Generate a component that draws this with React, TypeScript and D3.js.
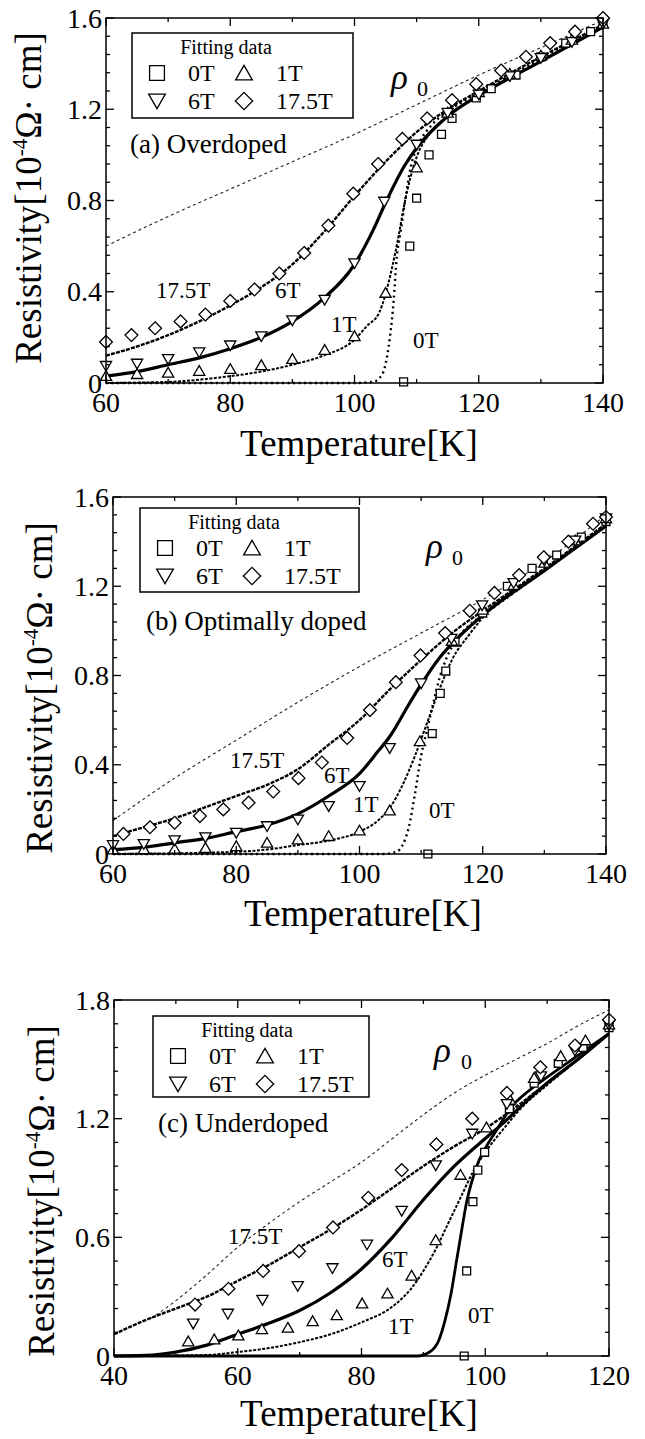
import * as d3 from "d3";

type Pt = [number, number];

// ---------- (a) Overdoped ----------
const aXTicks = [60, 80, 100, 120, 140];
const aYTicks = [0, 0.4, 0.8, 1.2, 1.6];
const aYLabels = ["0", "0.4", "0.8", "1.2", "1.6"];
const aRho0: Pt[] = [[60, 0.6], [70, 0.73], [80, 0.85], [90, 0.97], [100, 1.09], [110, 1.22], [120, 1.35], [130, 1.47], [140, 1.59]];
const a0T: Pt[] = [[60, 0], [80, 0], [100, 0], [103, 0.005], [104.5, 0.04], [105.2, 0.11], [105.7, 0.2], [106.3, 0.36], [106.8, 0.55], [107.4, 0.66], [108.1, 0.79], [109, 0.94], [110.4, 1.05], [112.4, 1.13], [115, 1.19], [120, 1.27], [130, 1.42], [140, 1.56]];
const a1T: Pt[] = [[60, 0], [70, 0.005], [80, 0.03], [85, 0.05], [90, 0.08], [95, 0.12], [100, 0.19], [102, 0.25], [104, 0.31], [105, 0.39], [106, 0.5], [107, 0.63], [108, 0.78], [109, 0.9], [110, 0.99], [112, 1.09], [115, 1.17], [120, 1.26], [130, 1.41], [140, 1.56]];
const a6T: Pt[] = [[60, 0.03], [65, 0.05], [70, 0.08], [75, 0.11], [80, 0.15], [85, 0.2], [90, 0.27], [95, 0.37], [100, 0.52], [103, 0.67], [105, 0.79], [108, 0.95], [110, 1.03], [113, 1.12], [116, 1.19], [120, 1.26], [130, 1.41], [140, 1.56]];
const a175T: Pt[] = [[60, 0.12], [65, 0.16], [70, 0.21], [75, 0.27], [80, 0.34], [85, 0.42], [90, 0.52], [95, 0.66], [100, 0.82], [105, 0.97], [110, 1.1], [115, 1.2], [120, 1.28], [130, 1.43], [140, 1.57]];
const aFit0T: Pt[] = [[107.9, 0.005], [108.9, 0.6], [110, 0.81], [112, 1.0], [114, 1.09], [115.7, 1.16], [119.6, 1.25], [122, 1.29], [126, 1.35], [130, 1.43], [134, 1.49], [138, 1.54], [140, 1.58]];
const aFit1T: Pt[] = [[60, 0.026], [65, 0.034], [70, 0.04], [75, 0.048], [80, 0.056], [85, 0.073], [90, 0.1], [95.2, 0.14], [100, 0.2], [105, 0.39], [110, 0.94], [115, 1.18], [120, 1.27], [125, 1.35], [130, 1.43], [135, 1.5], [140, 1.57]];
const aFit6T: Pt[] = [[60, 0.08], [65, 0.09], [70, 0.11], [75, 0.14], [80, 0.17], [85, 0.21], [90, 0.28], [95.2, 0.37], [100, 0.53], [104.8, 0.8], [110, 1.05], [115, 1.19], [120, 1.27], [125, 1.35], [130, 1.43], [135, 1.5], [140, 1.58]];
const aFit175T: Pt[] = [[60, 0.18], [64.1, 0.21], [67.9, 0.24], [72, 0.27], [76, 0.3], [80, 0.36], [83.9, 0.41], [87.9, 0.48], [91.9, 0.57], [95.8, 0.69], [99.8, 0.83], [103.8, 0.96], [107.7, 1.07], [111.7, 1.16], [115.7, 1.24], [119.6, 1.31], [123.6, 1.37], [127.6, 1.43], [131.5, 1.49], [135.5, 1.54], [140, 1.6]];

// ---------- (b) Optimally doped ----------
const bXTicks = [60, 80, 100, 120, 140];
const bYTicks = [0, 0.4, 0.8, 1.2, 1.6];
const bYLabels = ["0", "0.4", "0.8", "1.2", "1.6"];
const bRho0: Pt[] = [[60, 0.15], [70, 0.34], [80, 0.51], [90, 0.68], [100, 0.84], [110, 0.99], [120, 1.14], [130, 1.31], [140, 1.52]];
const b0T: Pt[] = [[60, 0], [104, 0], [106, 0.01], [107, 0.04], [108, 0.12], [109, 0.27], [110, 0.44], [111, 0.56], [112, 0.68], [113, 0.79], [114, 0.87], [116, 0.97], [118, 1.03], [120, 1.07], [130, 1.27], [140, 1.47]];
const b1T: Pt[] = [[60, 0], [80, 0.01], [85, 0.02], [90, 0.04], [95, 0.06], [100, 0.1], [103, 0.15], [105, 0.21], [107, 0.31], [109, 0.44], [111, 0.59], [113, 0.74], [115, 0.87], [118, 0.99], [120, 1.06], [130, 1.27], [140, 1.47]];
const b6T: Pt[] = [[60, 0.02], [65, 0.03], [70, 0.05], [75, 0.07], [80, 0.1], [85, 0.13], [90, 0.18], [95, 0.26], [100, 0.36], [103, 0.46], [105, 0.53], [108, 0.67], [110, 0.76], [113, 0.88], [116, 0.97], [120, 1.07], [130, 1.27], [140, 1.47]];
const b175T: Pt[] = [[60, 0.08], [65, 0.12], [70, 0.16], [75, 0.21], [80, 0.26], [85, 0.31], [90, 0.38], [95, 0.49], [100, 0.6], [105, 0.74], [110, 0.87], [115, 0.99], [120, 1.09], [130, 1.28], [140, 1.48]];
const bFit0T: Pt[] = [[111.1, 0], [111.8, 0.54], [113.1, 0.72], [114, 0.82], [115.5, 0.95], [120, 1.08], [124, 1.2], [128, 1.28], [132, 1.34], [136, 1.42], [140, 1.49]];
const bFit1T: Pt[] = [[60, 0.015], [65, 0.016], [70, 0.018], [75, 0.022], [80, 0.03], [85, 0.045], [90, 0.06], [95, 0.075], [100, 0.1], [104.9, 0.19], [109.8, 0.5], [115, 0.95], [120, 1.09], [125, 1.2], [130, 1.3], [135, 1.4], [140, 1.5]];
const bFit6T: Pt[] = [[60, 0.045], [65, 0.05], [70, 0.067], [75, 0.08], [80, 0.1], [85, 0.13], [90, 0.16], [95, 0.22], [100, 0.31], [104.9, 0.48], [110, 0.77], [114.9, 0.97], [119.9, 1.12], [125, 1.22], [130, 1.32], [135, 1.41], [140, 1.51]];
const bFit175T: Pt[] = [[61.7, 0.09], [66, 0.12], [70, 0.14], [74.1, 0.17], [77.9, 0.2], [82, 0.23], [86, 0.28], [90.1, 0.34], [93.9, 0.41], [98, 0.52], [101.7, 0.645], [105.9, 0.77], [109.9, 0.89], [113.9, 0.99], [117.9, 1.09], [121.9, 1.17], [125.9, 1.25], [129.9, 1.33], [133.9, 1.4], [137.9, 1.48], [140, 1.51]];

// ---------- (c) Underdoped ----------
const cXTicks = [40, 60, 80, 100, 120];
const cYTicks = [0, 0.6, 1.2, 1.8];
const cYLabels = ["0", "0.6", "1.2", "1.8"];
const cRho0: Pt[] = [[46, 0.19], [50, 0.28], [55, 0.41], [60, 0.55], [65, 0.67], [70, 0.78], [75, 0.88], [80, 0.98], [85, 1.1], [90, 1.22], [95, 1.33], [100, 1.42], [105, 1.5], [110, 1.58], [115, 1.67], [120, 1.75]];
const c0T: Pt[] = [[40, 0], [89, 0], [91, 0.02], [92.5, 0.08], [93.5, 0.18], [94.5, 0.32], [95.3, 0.47], [96, 0.6], [97, 0.78], [98, 0.9], [99, 0.99], [100, 1.05], [102, 1.15], [104, 1.25], [107, 1.34], [110, 1.41], [115, 1.52], [120, 1.63]];
const c1T: Pt[] = [[40, 0], [55, 0.005], [60, 0.02], [65, 0.04], [70, 0.07], [75, 0.11], [80, 0.17], [85, 0.25], [88, 0.34], [90, 0.43], [92, 0.54], [94, 0.67], [96, 0.8], [98, 0.93], [100, 1.03], [103, 1.15], [106, 1.26], [110, 1.37], [115, 1.5], [120, 1.63]];
const c6T: Pt[] = [[40, 0], [45, 0.003], [50, 0.02], [55, 0.055], [60, 0.11], [65, 0.165], [70, 0.23], [75, 0.32], [80, 0.44], [85, 0.6], [90, 0.79], [95, 0.96], [100, 1.1], [103, 1.18], [106, 1.27], [110, 1.38], [115, 1.5], [120, 1.63]];
const c175T: Pt[] = [[40, 0.11], [45, 0.18], [50, 0.24], [55, 0.3], [60, 0.38], [65, 0.46], [70, 0.55], [75, 0.64], [80, 0.74], [85, 0.85], [90, 0.96], [95, 1.06], [100, 1.15], [105, 1.26], [110, 1.38], [115, 1.5], [120, 1.63]];
const cFit0T: Pt[] = [[96.6, 0], [97, 0.43], [98, 0.78], [98.8, 0.94], [99.9, 1.03], [103.9, 1.25], [107.9, 1.38], [111.8, 1.48], [115.8, 1.56], [120, 1.66]];
const cFit1T: Pt[] = [[52, 0.068], [56.2, 0.078], [60.1, 0.098], [63.9, 0.13], [68.1, 0.137], [72.1, 0.17], [76, 0.2], [80.1, 0.26], [84.2, 0.31], [88.1, 0.4], [92, 0.58], [96, 0.91], [100.2, 1.15], [104, 1.29], [107.9, 1.4], [112.2, 1.51], [116.2, 1.59], [120, 1.67]];
const cFit6T: Pt[] = [[52.8, 0.17], [58.4, 0.22], [64, 0.29], [69.7, 0.36], [75.3, 0.45], [80.9, 0.57], [86.5, 0.74], [92, 0.97], [97.9, 1.13], [103.5, 1.28], [109, 1.42], [114.5, 1.55], [120, 1.68]];
const cFit175T: Pt[] = [[53.1, 0.26], [58.5, 0.34], [64.1, 0.43], [69.9, 0.53], [75.4, 0.65], [81.1, 0.8], [86.5, 0.94], [92.1, 1.07], [97.9, 1.2], [103.5, 1.33], [108.9, 1.46], [114.5, 1.57], [120, 1.7]];

const FONT = '"Liberation Serif", "Times New Roman", serif';

type Box = { left: number; right: number; top: number; bottom: number };
type Lbl = { text: string; x: number; y: number };

interface PanelCfg {
  box: Box;
  xDomain: [number, number];
  yDomain: [number, number];
  xTicks: number[];
  xMinor: number;
  yTicks: number[];
  yLabels: string[];
  yMinor: number;
  rho0: Pt[];
  m0T: Pt[];
  m1T: Pt[];
  m6T: Pt[];
  m175T: Pt[];
  f0T: Pt[];
  f1T: Pt[];
  f6T: Pt[];
  f175T: Pt[];
  zeroDotted: boolean;
  legend: { x: number; y: number; w: number; h: number };
  name: Lbl;
  rho: { x: number; y: number; sx: number };
  curveLabels: Lbl[];
  xTitle: { x: number; y: number };
  yTitle: { x: number; y: number };
}

const symSquare = d3.symbol().type(d3.symbolSquare2);
const symTri = d3.symbol().type(d3.symbolTriangle2);
const symDiamond = d3.symbol().type(d3.symbolDiamond2);

function Marker({ kind, x, y, big }: { kind: string; x: number; y: number; big?: boolean }) {
  let d = "";
  let rot = 0;
  if (kind === "0T") d = symSquare.size(big ? 280 : 80)() as string;
  if (kind === "1T") d = symTri.size(big ? 200 : 90)() as string;
  if (kind === "6T") {
    d = symTri.size(big ? 200 : 90)() as string;
    rot = 180;
  }
  if (kind === "17.5T") d = symDiamond.size(big ? 190 : 105)() as string;
  return (
    <path
      d={d}
      transform={`translate(${x},${y}) rotate(${rot})`}
      fill="#fff"
      stroke="#000"
      strokeWidth={1.3}
    />
  );
}

function Panel({ cfg }: { cfg: PanelCfg }) {
  const { box } = cfg;
  const x = d3.scaleLinear().domain(cfg.xDomain).range([box.left, box.right]);
  const y = d3.scaleLinear().domain(cfg.yDomain).range([box.bottom, box.top]);
  const line = d3
    .line<Pt>()
    .x((d) => x(d[0]))
    .y((d) => y(d[1]))
    .curve(d3.curveMonotoneX);

  const xMinor = d3
    .range(cfg.xDomain[0], cfg.xDomain[1] + 0.001, cfg.xMinor)
    .filter((v) => !cfg.xTicks.includes(v));
  const yMinor = d3
    .range(cfg.yDomain[0], cfg.yDomain[1] + 0.001, cfg.yMinor)
    .filter((v) => !cfg.yTicks.some((t) => Math.abs(t - v) < 1e-6));

  const major = 8;
  const minor = 4;
  const lg = cfg.legend;

  return (
    <g fontFamily={FONT} fill="#000">
      {/* rho0 */}
      <path d={line(cfg.rho0) ?? ""} fill="none" stroke="#222" strokeWidth={1.1} strokeDasharray="3 3" />

      {/* measured curves */}
      <path
        d={line(cfg.m0T) ?? ""}
        fill="none"
        stroke="#000"
        strokeWidth={cfg.zeroDotted ? 2.4 : 2.8}
        strokeDasharray={cfg.zeroDotted ? "2 3.5" : undefined}
      />
      <path d={line(cfg.m1T) ?? ""} fill="none" stroke="#000" strokeWidth={2} strokeDasharray="3 1.5" />
      <path d={line(cfg.m6T) ?? ""} fill="none" stroke="#000" strokeWidth={3.2} />
      <path d={line(cfg.m175T) ?? ""} fill="none" stroke="#000" strokeWidth={2.4} strokeDasharray="4 1.2" />

      {/* fitting markers */}
      {cfg.f0T.map((d, i) => <Marker key={"s" + i} kind="0T" x={x(d[0])} y={y(d[1])} />)}
      {cfg.f1T.map((d, i) => <Marker key={"t" + i} kind="1T" x={x(d[0])} y={y(d[1])} />)}
      {cfg.f6T.map((d, i) => <Marker key={"v" + i} kind="6T" x={x(d[0])} y={y(d[1])} />)}
      {cfg.f175T.map((d, i) => <Marker key={"d" + i} kind="17.5T" x={x(d[0])} y={y(d[1])} />)}

      {/* frame and ticks */}
      <rect
        x={box.left}
        y={box.top}
        width={box.right - box.left}
        height={box.bottom - box.top}
        fill="none"
        stroke="#000"
        strokeWidth={1.5}
      />
      {cfg.xTicks.concat(xMinor).map((v, i) => {
        const len = cfg.xTicks.includes(v) ? major : minor;
        return (
          <g key={"xt" + i} stroke="#000" strokeWidth={1.3}>
            <line x1={x(v)} x2={x(v)} y1={box.bottom} y2={box.bottom - len} />
            <line x1={x(v)} x2={x(v)} y1={box.top} y2={box.top + len} />
          </g>
        );
      })}
      {cfg.yTicks.concat(yMinor).map((v, i) => {
        const len = i < cfg.yTicks.length ? major : minor;
        return (
          <g key={"yt" + i} stroke="#000" strokeWidth={1.3}>
            <line x1={box.left} x2={box.left + len} y1={y(v)} y2={y(v)} />
            <line x1={box.right} x2={box.right - len} y1={y(v)} y2={y(v)} />
          </g>
        );
      })}
      {cfg.xTicks.map((v) => (
        <text key={"xl" + v} x={x(v)} y={box.bottom + 29} fontSize={28} textAnchor="middle">
          {v}
        </text>
      ))}
      {cfg.yTicks.map((v, i) => (
        <text key={"yl" + v} x={box.left - 4} y={y(v) + 9.5} fontSize={28} textAnchor="end">
          {cfg.yLabels[i]}
        </text>
      ))}

      {/* legend */}
      <rect x={lg.x} y={lg.y} width={lg.w} height={lg.h} fill="#fff" stroke="#000" strokeWidth={1.5} />
      <text x={lg.x + 94} y={lg.y + 21} fontSize={20} textAnchor="middle">
        Fitting data
      </text>
      <Marker kind="0T" x={lg.x + 25} y={lg.y + 40} big />
      <text x={lg.x + 56} y={lg.y + 48} fontSize={24}>0T</text>
      <Marker kind="1T" x={lg.x + 112} y={lg.y + 42} big />
      <text x={lg.x + 144} y={lg.y + 48} fontSize={24}>1T</text>
      <Marker kind="6T" x={lg.x + 25} y={lg.y + 66} big />
      <text x={lg.x + 56} y={lg.y + 76} fontSize={24}>6T</text>
      <Marker kind="17.5T" x={lg.x + 112} y={lg.y + 68} big />
      <text x={lg.x + 144} y={lg.y + 76} fontSize={24}>17.5T</text>

      {/* annotations */}
      <text x={cfg.name.x} y={cfg.name.y} fontSize={27}>{cfg.name.text}</text>
      <text x={cfg.rho.x} y={cfg.rho.y} fontSize={35} fontStyle="italic">ρ</text>
      <text x={cfg.rho.sx} y={cfg.rho.y + 7} fontSize={22}>0</text>
      {cfg.curveLabels.map((l) => (
        <text key={l.text} x={l.x} y={l.y} fontSize={23}>{l.text}</text>
      ))}

      {/* axis titles */}
      <text x={cfg.xTitle.x} y={cfg.xTitle.y} fontSize={37} textAnchor="middle">
        Temperature[K]
      </text>
      <text transform={`translate(${cfg.yTitle.x},${cfg.yTitle.y}) rotate(-90)`} fontSize={37} textAnchor="middle">
        Resistivity[10
        <tspan fontSize={21} dy={-14}>-4</tspan>
        <tspan dy={14}>Ω· cm]</tspan>
      </text>
    </g>
  );
}

const panels: PanelCfg[] = [
  {
    box: { left: 106, right: 603, top: 18, bottom: 383 },
    xDomain: [60, 140],
    yDomain: [0, 1.6],
    xTicks: aXTicks,
    xMinor: 10,
    yTicks: aYTicks,
    yLabels: aYLabels,
    yMinor: 0.08,
    rho0: aRho0,
    m0T: a0T,
    m1T: a1T,
    m6T: a6T,
    m175T: a175T,
    f0T: aFit0T,
    f1T: aFit1T,
    f6T: aFit6T,
    f175T: aFit175T,
    zeroDotted: true,
    legend: { x: 132, y: 33, w: 221, h: 85 },
    name: { text: "(a) Overdoped", x: 130, y: 153 },
    rho: { x: 391, y: 89, sx: 417 },
    curveLabels: [
      { text: "17.5T", x: 156, y: 298 },
      { text: "6T", x: 275, y: 298 },
      { text: "1T", x: 331, y: 332 },
      { text: "0T", x: 413, y: 348 },
    ],
    xTitle: { x: 359, y: 456 },
    yTitle: { x: 41, y: 198 },
  },
  {
    box: { left: 113, right: 606, top: 497, bottom: 854 },
    xDomain: [60, 140],
    yDomain: [0, 1.6],
    xTicks: bXTicks,
    xMinor: 10,
    yTicks: bYTicks,
    yLabels: bYLabels,
    yMinor: 0.08,
    rho0: bRho0,
    m0T: b0T,
    m1T: b1T,
    m6T: b6T,
    m175T: b175T,
    f0T: bFit0T,
    f1T: bFit1T,
    f6T: bFit6T,
    f175T: bFit175T,
    zeroDotted: true,
    legend: { x: 140, y: 508, w: 219, h: 84 },
    name: { text: "(b) Optimally doped", x: 146, y: 630 },
    rho: { x: 426, y: 558, sx: 452 },
    curveLabels: [
      { text: "17.5T", x: 230, y: 768 },
      { text: "6T", x: 324, y: 783 },
      { text: "1T", x: 353, y: 812 },
      { text: "0T", x: 429, y: 818 },
    ],
    xTitle: { x: 363, y: 926 },
    yTitle: { x: 52, y: 688 },
  },
  {
    box: { left: 114, right: 609, top: 1000, bottom: 1356 },
    xDomain: [40, 120],
    yDomain: [0, 1.8],
    xTicks: cXTicks,
    xMinor: 10,
    yTicks: cYTicks,
    yLabels: cYLabels,
    yMinor: 0.12,
    rho0: cRho0,
    m0T: c0T,
    m1T: c1T,
    m6T: c6T,
    m175T: c175T,
    f0T: cFit0T,
    f1T: cFit1T,
    f6T: cFit6T,
    f175T: cFit175T,
    zeroDotted: false,
    legend: { x: 153, y: 1016, w: 216, h: 81 },
    name: { text: "(c) Underdoped", x: 158, y: 1132 },
    rho: { x: 434, y: 1062, sx: 461 },
    curveLabels: [
      { text: "17.5T", x: 228, y: 1244 },
      { text: "6T", x: 382, y: 1267 },
      { text: "1T", x: 388, y: 1334 },
      { text: "0T", x: 468, y: 1323 },
    ],
    xTitle: { x: 359, y: 1426 },
    yTitle: { x: 54, y: 1191 },
  },
];

export default function App() {
  return (
    <svg
      width={645}
      height={1439}
      style={{ position: "absolute", left: 0, top: 0, display: "block", background: "#fff" }}
    >
      <rect width={645} height={1439} fill="#fff" />
      {panels.map((p, i) => (
        <Panel key={i} cfg={p} />
      ))}
    </svg>
  );
}
